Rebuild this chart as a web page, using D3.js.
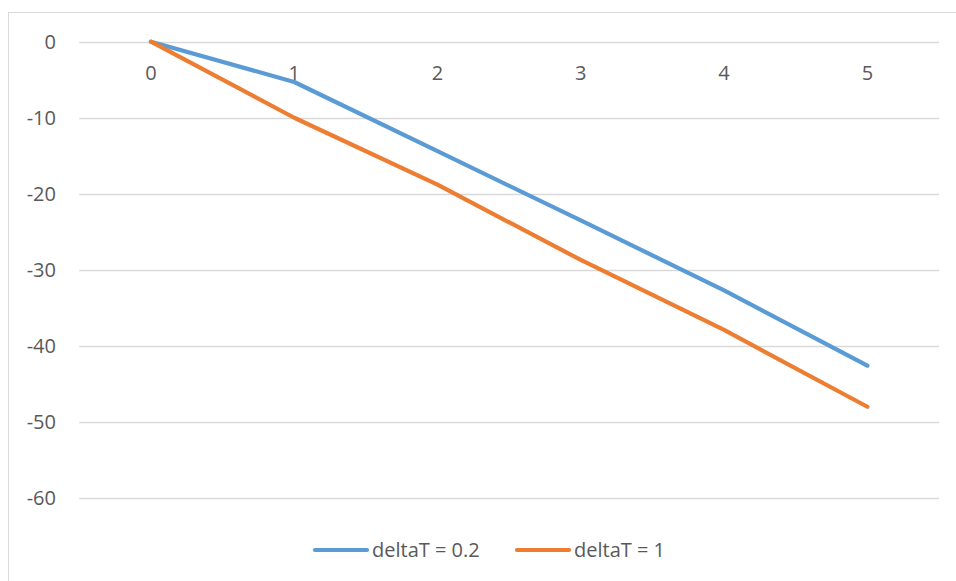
<!DOCTYPE html>
<html><head><meta charset="utf-8">
<script src="https://cdn.jsdelivr.net/npm/d3@7"></script>
<style>body{margin:0;background:#fff;} text{font-family:"Open Sans","Noto Sans",sans-serif;fill:#595959;}</style>
</head><body>
<svg id="c" width="956" height="581"></svg>
<script>
const categories = ["0","1","2","3","4","5"];
const seriesNames = ["deltaT = 0.2","deltaT = 1"];
const series02 = [0,-5.3,-14.4,-23.5,-32.7,-42.6];
const series1 = [0,-10,-18.8,-28.7,-37.9,-48.0];
const yTicks = [0,-10,-20,-30,-40,-50,-60];
const colors = ["#5B9BD5","#ED7D31"];

(function(){
const svg = d3.select("#c");
svg.append("rect").attr("x",8.5).attr("y",12.5).attr("width",960).attr("height",600)
  .attr("fill","#fff").attr("stroke","#D9D9D9").attr("stroke-width",1);

const pL=79.3, pR=939, pT=41.7, pB=498;
const x = d3.scaleBand().domain(categories).range([pL,pR]);
const y = d3.scaleLinear().domain([-60,0]).range([pB,pT]);
const fs = 20;

const g = svg.append("g");
g.selectAll("line.grid").data(yTicks).join("line")
  .attr("x1",pL).attr("x2",pR)
  .attr("y1",d=>Math.round(y(d))+0.5).attr("y2",d=>Math.round(y(d))+0.5)
  .attr("stroke","#D9D9D9").attr("stroke-width",1.3);

g.selectAll("text.yl").data(yTicks).join("text")
  .attr("x",56).attr("y",d=>y(d)).attr("dy","0.35em")
  .attr("text-anchor","end").attr("font-size",fs).text(d=>d);

g.selectAll("text.xl").data(categories).join("text")
  .attr("x",d=>x(d)+x.bandwidth()/2).attr("y",73).attr("dy","0.35em")
  .attr("text-anchor","middle").attr("font-size",fs).text(d=>d);

const line = d3.line().x((d,i)=>x(categories[i])+x.bandwidth()/2).y(d=>y(d));
[series02,series1].forEach((s,i)=>{
  g.append("path").datum(s).attr("d",line).attr("fill","none")
   .attr("stroke",colors[i]).attr("stroke-width",4.2)
   .attr("stroke-linecap","round").attr("stroke-linejoin","round");
});

const legX = [313, 515];
seriesNames.forEach((n,i)=>{
  g.append("line").attr("x1",legX[i]+2).attr("x2",legX[i]+54).attr("y1",550).attr("y2",550)
   .attr("stroke",colors[i]).attr("stroke-width",4.2).attr("stroke-linecap","round");
  g.append("text").attr("x",legX[i]+59).attr("y",550).attr("dy","0.35em")
   .attr("font-size",fs).text(n);
});
})();
</script>
</body></html>
